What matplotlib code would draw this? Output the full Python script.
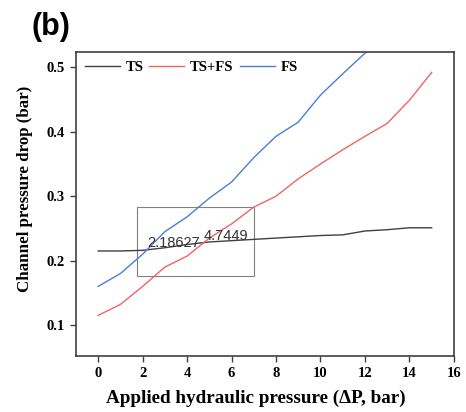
import numpy as np
import matplotlib
matplotlib.use('Agg')
import matplotlib.pyplot as plt
from matplotlib.patches import Rectangle

# Data
dp = [0, 1, 2, 3, 4, 5, 6, 7, 8, 9, 10, 11, 12, 13, 14, 15]
ts = [0.215, 0.215, 0.216, 0.220, 0.225, 0.229, 0.231, 0.233, 0.235, 0.237,
      0.239, 0.240, 0.246, 0.248, 0.251, 0.251]
ts_fs = [0.115, 0.132, 0.160, 0.190, 0.207, 0.235, 0.257, 0.283, 0.300, 0.327,
         0.350, 0.372, 0.393, 0.413, 0.449, 0.492]
dp_fs = [0, 1, 2, 3, 4, 5, 6, 7, 8, 9, 10, 11, 12, 13]
fs = [0.160, 0.180, 0.210, 0.245, 0.268, 0.297, 0.322, 0.360, 0.393, 0.415,
      0.457, 0.490, 0.522, 0.560]

# crossing points marked on the plot
cross_x = [2.18627, 4.7449]
cross_lbl = ['2.18627', '4.7449']

serif = 'Liberation Serif'

fig = plt.figure(figsize=(4.66, 4.12), dpi=100)
ax = fig.add_axes([0.163, 0.136, 0.811, 0.738])

ax.plot(dp, ts, color='#404040', lw=1.0, label='TS')
ax.plot(dp, ts_fs, color='#f06464', lw=1.0, label='TS+FS')
ax.plot(dp_fs, fs, color='#4a7fd4', lw=1.0, label='FS')

# zoom box around the crossing region
ax.add_patch(Rectangle((1.75, 0.176), 5.28, 0.108, fill=False,
                       edgecolor='#808080', lw=0.8))
ax.text(cross_x[0], 0.2205, cross_lbl[0], fontsize=10.5, family='Liberation Sans',
        color='#333333')
ax.text(cross_x[1], 0.2315, cross_lbl[1], fontsize=10.5, family='Liberation Sans',
        color='#333333')

ax.set_xlim(-1, 16)
ax.set_ylim(0.052, 0.524)
ax.set_xticks(np.arange(0, 17, 2))
ax.set_yticks([0.1, 0.2, 0.3, 0.4, 0.5])
ax.set_yticklabels(['0.1', '0.2', '0.3', '0.4', '0.5'])

for sp in ax.spines.values():
    sp.set_color('#404040')
    sp.set_linewidth(1.2)
ax.tick_params(direction='out', length=4, width=1, color='#404040',
               labelsize=10.5, pad=4)
for lab in ax.get_xticklabels() + ax.get_yticklabels():
    lab.set_family(serif)
    lab.set_fontweight('bold')

ax.set_xlabel('Applied hydraulic pressure (ΔP, bar)', family=serif,
              fontweight='bold', fontsize=13.8)
ax.set_ylabel('Channel pressure drop (bar)', family=serif,
              fontweight='bold', fontsize=12.2)
ax.xaxis.set_label_coords(0.475, -0.11)
ax.yaxis.set_label_coords(-0.114, 0.55)

leg = ax.legend(loc='upper left', ncol=3, frameon=False, handlelength=2.4,
                columnspacing=0.4, handletextpad=0.4, borderaxespad=0.2,
                prop={'family': serif, 'weight': 'bold', 'size': 10.5})

fig.text(0.068, 0.97, '(b)', fontsize=22, fontweight='bold',
         family='Liberation Sans', va='top')

fig.savefig('out.png', dpi=100)
